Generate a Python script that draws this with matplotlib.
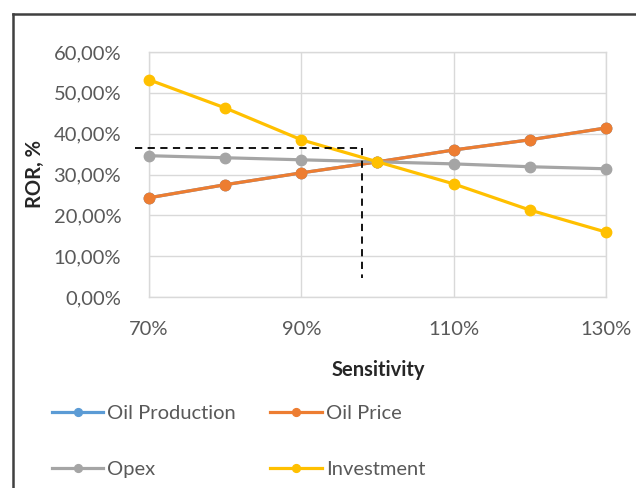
import matplotlib
matplotlib.use("Agg")
import matplotlib.pyplot as plt
from matplotlib.lines import Line2D
from matplotlib.ticker import FuncFormatter, FixedLocator, MultipleLocator

plt.rcParams['font.family'] = ['Lato', 'DejaVu Sans']

sensitivity = [70, 80, 90, 100, 110, 120, 130]
x_ticks = [70, 90, 110, 130]
oil_production = [24.3, 27.5, 30.4, 33.1, 36.0, 38.5, 41.4]
oil_price = [24.3, 27.5, 30.4, 33.1, 36.0, 38.5, 41.4]
opex = [34.6, 34.1, 33.6, 33.1, 32.6, 31.9, 31.4]
investment = [53.2, 46.3, 38.5, 33.1, 27.7, 21.3, 15.9]
series_names = ["Oil Production", "Oil Price", "Opex", "Investment"]
colors = ["#5B9BD5", "#ED7D31", "#A5A5A5", "#FFC000"]
guide_x = [68.2, 97.9]
guide_y = [36.5, 4.6]

W, H = 636, 488
fig = plt.figure(figsize=(W / 100, H / 100), dpi=100)
ax = fig.add_axes([149 / W, 1 - 297 / H, (606 - 149) / W, (297 - 52) / H])

handles = []
for vals, name, c in zip([oil_production, oil_price, opex, investment], series_names, colors):
    h, = ax.plot(sensitivity, vals, color=c, lw=2.3, marker='o', markersize=7.5,
                 label=name, clip_on=False, zorder=3)
    handles.append(h)

# dashed guide lines
ax.plot([guide_x[0], guide_x[1]], [guide_y[0], guide_y[0]], color='black', lw=1.3,
        ls=(0, (4, 3)), clip_on=False, zorder=4)
ax.plot([guide_x[1], guide_x[1]], [guide_y[0], guide_y[1]], color='black', lw=1.3,
        ls=(0, (4, 3)), clip_on=False, zorder=4)

ax.set_xlim(70, 130)
ax.set_ylim(0, 60)
ax.xaxis.set_major_locator(FixedLocator(x_ticks))
ax.yaxis.set_major_locator(MultipleLocator(10))
ax.xaxis.set_major_formatter(FuncFormatter(lambda v, p: f"{int(round(v))}%"))
ax.yaxis.set_major_formatter(FuncFormatter(lambda v, p: f"{v:.2f}".replace('.', ',') + "%"))
ax.grid(True, color='#D9D9D9', lw=1)
ax.set_axisbelow(True)
for s in ax.spines.values():
    s.set_color('#D9D9D9')
    s.set_linewidth(1)
ax.tick_params(axis='both', length=0, labelsize=14.5, labelcolor='#595959')
ax.tick_params(axis='y', pad=20)
ax.tick_params(axis='x', pad=17)

ax.set_xlabel("Sensitivity", fontsize=14.5, fontweight='bold', color='#262626')
ax.set_ylabel("ROR, %", fontsize=14.5, fontweight='bold', color='#262626')
ax.yaxis.set_label_coords(-(149 - 35) / (606 - 149), (297 - 174) / (297 - 52))
ax.xaxis.label.set_va('center')
ax.yaxis.label.set_va('center')
ax.xaxis.set_label_coords((378 - 149) / (606 - 149), -(370 - 297) / (297 - 52))

order = [0, 2, 1, 3]
leg = fig.legend(handles=[handles[i] for i in order], labels=[series_names[i] for i in order],
                 ncol=2, loc='upper left',
                 bbox_to_anchor=(52 / W, 1 - 405 / H), frameon=False, fontsize=14.5,
                 handlelength=2.55, handletextpad=0.2, columnspacing=1.7,
                 labelspacing=1.95, markerscale=0.75, borderpad=0, borderaxespad=0)
for t in leg.get_texts():
    t.set_color('#595959')

# outer border (top and left)
fig.add_artist(Line2D([13 / W, 13 / W], [0, 1 - 14 / H], transform=fig.transFigure,
                      color='#404040', lw=1.8))
fig.add_artist(Line2D([13 / W, 1], [1 - 14 / H, 1 - 14 / H], transform=fig.transFigure,
                      color='#404040', lw=1.8))

fig.savefig("out.png", dpi=100)
